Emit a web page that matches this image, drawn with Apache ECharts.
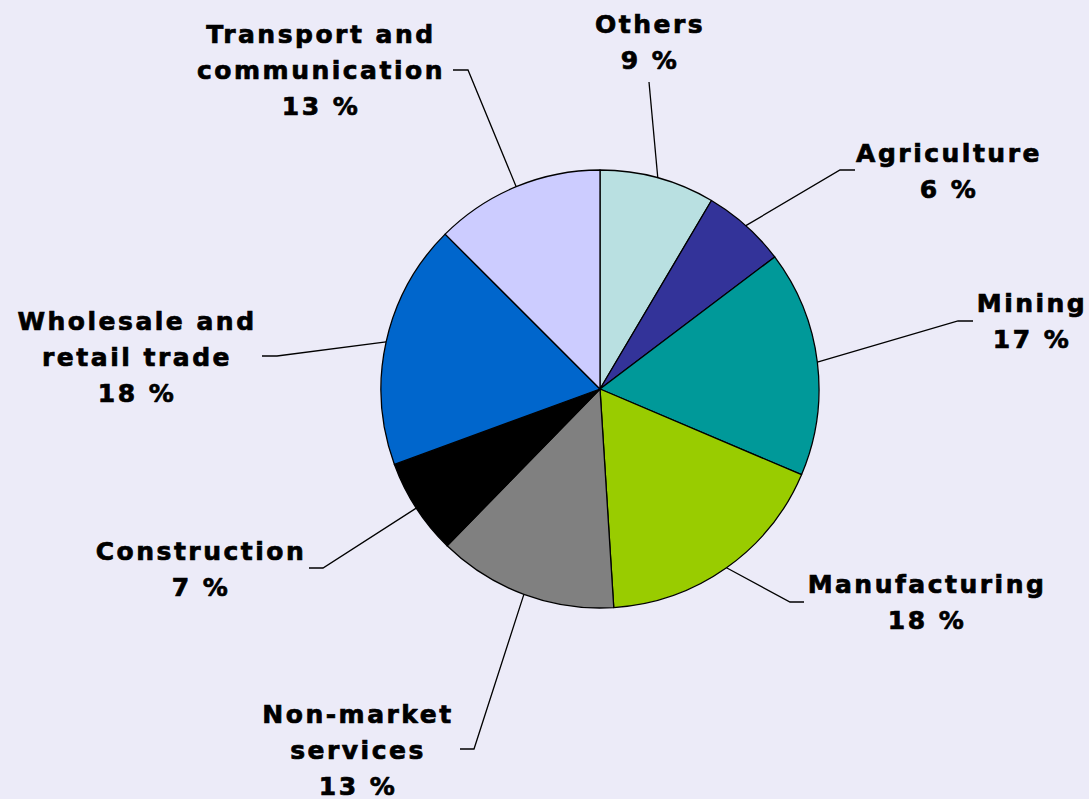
<!DOCTYPE html>
<html>
<head>
<meta charset="utf-8">
<script src="https://cdn.jsdelivr.net/npm/echarts@6/dist/echarts.min.js"></script>
<style>
  html, body { margin: 0; padding: 0; background: #ECEBF8; }
  #chart { width: 1089px; height: 799px; }
  #chart text { letter-spacing: 2.5px; }
</style>
</head>
<body>
<div id="chart"></div>
<script>
// Data (clockwise from 12 o'clock)
const categories = [
  'Others', 'Agriculture', 'Mining', 'Manufacturing',
  'Non-market\nservices', 'Construction', 'Wholesale and\nretail trade',
  'Transport and\ncommunication'
];
const shares = [8.5, 6.2, 16.7, 17.6, 13.3, 7.1, 18.1, 12.5];
const colors = ['#B9E0E1', '#333399', '#009999', '#99CC00', '#808080', '#000000', '#0066CC', '#CCCCFF'];

// Layout of labels (annotation placement, pixels)
const labelCenters = [[650, 42], [949, 171], [1032, 321], [927, 602], [358, 750], [201, 569], [137, 357], [321, 70]];
const lineElbows  = [[649, 82], [840, 170], [958, 321], [790, 602], [474, 749], [323, 568], [277, 356], [468, 70]];
const lineEnds    = [[649, 82], [855, 170], [973, 321], [804, 602], [460, 749], [309, 568], [262, 356], [453, 70]];

const chart = echarts.init(document.getElementById('chart'), null, { renderer: 'svg' });
chart.setOption({
  backgroundColor: '#ECEBF8',
  animation: false,
  series: [{
    type: 'pie',
    center: [600, 389],
    radius: 219,
    startAngle: 90,
    clockwise: true,
    avoidLabelOverlap: false,
    data: categories.map((c, i) => ({ name: c, value: shares[i], itemStyle: { color: colors[i] } })),
    itemStyle: { borderColor: '#000', borderWidth: 1.3 },
    label: {
      show: true,
      position: 'outside',
      formatter: p => p.name + '\n' + Math.round(p.value) + ' %',
      fontFamily: 'DejaVu Sans',
      fontWeight: 'bold',
      fontSize: 25,
      lineHeight: 36,
      color: '#000',
      textBorderColor: '#000',
      textBorderWidth: 0.7,
      align: 'center'
    },
    labelLine: { show: true, smooth: false, lineStyle: { color: '#000', width: 1.3 } },
    emphasis: { disabled: true }
  }]
});
chart.setOption({
  series: [{
    labelLayout: function (params) {
      const i = params.dataIndex;
      const pts = params.labelLinePoints;
      const start = pts ? pts[0] : lineElbows[i];
      return {
        x: labelCenters[i][0],
        y: labelCenters[i][1],
        align: 'center',
        verticalAlign: 'middle',
        labelLinePoints: [start, lineElbows[i], lineEnds[i]]
      };
    }
  }]
});
</script>
</body>
</html>
